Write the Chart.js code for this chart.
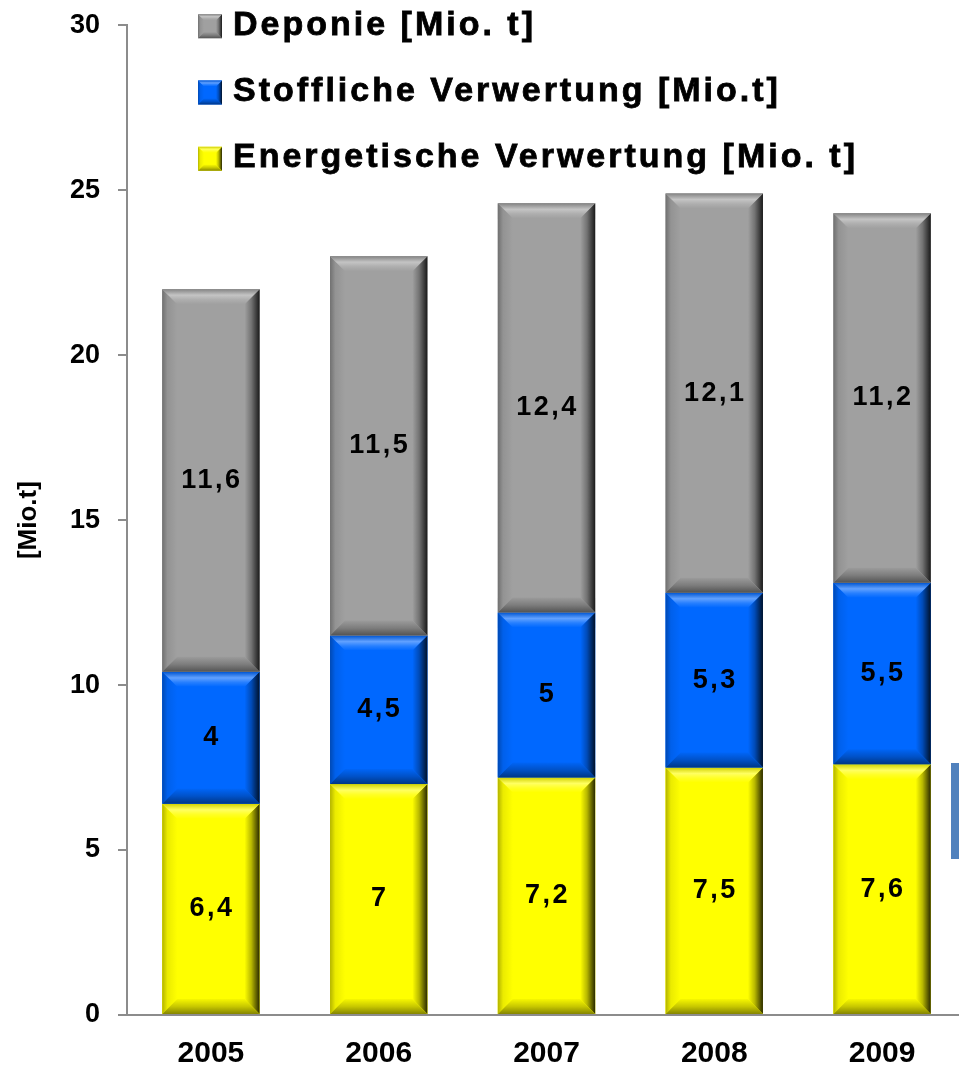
<!DOCTYPE html>
<html>
<head>
<meta charset="utf-8">
<script src="https://cdn.jsdelivr.net/npm/chart.js@4.4.1/dist/chart.umd.min.js"></script>
<style>
  html, body { margin: 0; padding: 0; background: #fff; overflow: hidden; width: 959px; height: 1074px; }
  #wrap { position: absolute; left: 0; top: -9px; width: 966px; height: 1083px; }
  #side { position: absolute; left: 951px; top: 763px; width: 10px; height: 96px; background: #5081bd; }
</style>
</head>
<body>
<div id="wrap"><canvas id="c" width="966" height="1083"></canvas></div>
<div id="side"></div>
<script>
// Abfallmengen je Jahr [Mio. t]
const years = ['2005', '2006', '2007', '2008', '2009'];
const energetisch = [6.4, 7, 7.2, 7.5, 7.6];
const stofflich = [4, 4.5, 5, 5.3, 5.5];
const deponie = [11.6, 11.5, 12.4, 12.1, 11.2];
const yTickStep = 5;
const yMax = 30;

const seriesNames = ['Energetische Verwertung [Mio. t]', 'Stoffliche Verwertung [Mio.t]', 'Deponie [Mio. t]'];
const faceColors = [[255, 255, 0], [0, 104, 255], [160, 160, 160]];

const FONT = '"Liberation Sans", Arial, sans-serif';

function shade(rgb, f) {
  let c;
  if (f <= 1) c = rgb.map(v => Math.round(v * f));
  else c = rgb.map(v => Math.round(v + (255 - v) * (f - 1)));
  return `rgb(${c[0]},${c[1]},${c[2]})`;
}

// beveled "3D" block look for a rectangle
function bevel(ctx, rgb, x0, y0, x1, y1, b) {
  const w = x1 - x0, h = y1 - y0;
  b = Math.min(b, w / 2, h / 2);
  ctx.save();
  ctx.fillStyle = shade(rgb, 1);
  ctx.fillRect(x0, y0, w, h);
  let g;
  // left
  g = ctx.createLinearGradient(x0, 0, x0 + b, 0);
  g.addColorStop(0, shade(rgb, 0.7));
  g.addColorStop(0.35, shade(rgb, 0.92));
  g.addColorStop(1, shade(rgb, 1));
  ctx.fillStyle = g;
  ctx.beginPath(); ctx.moveTo(x0, y0); ctx.lineTo(x0 + b, y0 + b); ctx.lineTo(x0 + b, y1 - b); ctx.lineTo(x0, y1); ctx.closePath(); ctx.fill();
  // right
  g = ctx.createLinearGradient(x1 - b, 0, x1, 0);
  g.addColorStop(0, shade(rgb, 1));
  g.addColorStop(0.45, shade(rgb, 0.72));
  g.addColorStop(1, shade(rgb, 0.16));
  ctx.fillStyle = g;
  ctx.beginPath(); ctx.moveTo(x1, y0); ctx.lineTo(x1, y1); ctx.lineTo(x1 - b, y1 - b); ctx.lineTo(x1 - b, y0 + b); ctx.closePath(); ctx.fill();
  // bottom
  g = ctx.createLinearGradient(0, y1 - b, 0, y1);
  g.addColorStop(0, shade(rgb, 0.97));
  g.addColorStop(0.5, shade(rgb, 0.78));
  g.addColorStop(1, shade(rgb, 0.52));
  ctx.fillStyle = g;
  ctx.beginPath(); ctx.moveTo(x0, y1); ctx.lineTo(x1, y1); ctx.lineTo(x1 - b, y1 - b); ctx.lineTo(x0 + b, y1 - b); ctx.closePath(); ctx.fill();
  // top
  g = ctx.createLinearGradient(0, y0, 0, y0 + b);
  g.addColorStop(0, shade(rgb, 0.82));
  g.addColorStop(0.4, shade(rgb, 1.38));
  g.addColorStop(0.7, shade(rgb, 1.15));
  g.addColorStop(1, shade(rgb, 1));
  ctx.fillStyle = g;
  ctx.beginPath(); ctx.moveTo(x0, y0); ctx.lineTo(x1, y0); ctx.lineTo(x1 - b, y0 + b); ctx.lineTo(x0 + b, y0 + b); ctx.closePath(); ctx.fill();
  ctx.restore();
}

const fmt = v => String(v).replace('.', ',');

const blockPlugin = {
  id: 'blocks',
  afterDatasetsDraw(chart) {
    const ctx = chart.ctx;
    chart.data.datasets.forEach((ds, di) => {
      const meta = chart.getDatasetMeta(di);
      meta.data.forEach(el => {
        const x0 = el.x - el.width / 2, x1 = el.x + el.width / 2;
        const top = Math.min(el.y, el.base), bot = Math.max(el.y, el.base);
        bevel(ctx, faceColors[di], x0, top, x1, bot, 15);
      });
    });
    // value labels
    ctx.save();
    ctx.fillStyle = '#000';
    ctx.font = 'bold 27px ' + FONT;
    ctx.textAlign = 'center';
    ctx.textBaseline = 'middle';
    ctx.letterSpacing = '2.5px';
    chart.data.datasets.forEach((ds, di) => {
      const meta = chart.getDatasetMeta(di);
      meta.data.forEach((el, i) => {
        ctx.fillText(fmt(ds.data[i]), el.x + 1, (el.y + el.base) / 2);
      });
    });
    ctx.restore();
  },
  afterDraw(chart) {
    const ctx = chart.ctx;
    const top = chart.chartArea.top;
    ctx.save();
    ctx.font = 'bold 34px ' + FONT;
    ctx.fillStyle = '#000';
    ctx.strokeStyle = '#000';
    ctx.lineWidth = 0.8;
    ctx.textBaseline = 'middle';
    ctx.textAlign = 'left';
    ctx.letterSpacing = '3px';
    const n = chart.data.datasets.length;
    for (let k = 0; k < n; k++) {
      const di = n - 1 - k;
      const cy = top + 1 + k * 66.3;
      bevel(ctx, faceColors[di], 198, cy - 12, 222, cy + 12, 6);
      ctx.fillText(chart.data.datasets[di].label, 233, cy - 1);
      ctx.strokeText(chart.data.datasets[di].label, 233, cy - 1);
    }
    ctx.restore();
  }
};

const seriesData = [energetisch, stofflich, deponie];

new Chart(document.getElementById('c'), {
  type: 'bar',
  data: {
    labels: years,
    datasets: seriesData.map((d, i) => ({
      label: seriesNames[i],
      data: d,
      backgroundColor: shade(faceColors[i], 1),
      borderWidth: 0,
      barPercentage: 0.58,
      categoryPercentage: 1
    }))
  },
  options: {
    responsive: false,
    animation: false,
    devicePixelRatio: 1,
    layout: { padding: { top: 15, left: 0, right: 0, bottom: 0 } },
    plugins: { legend: { display: false }, tooltip: { enabled: false } },
    scales: {
      x: {
        stacked: true,
        grid: { display: false, drawTicks: false, tickLength: 0 },
        border: { display: true, color: '#8c8c8c', width: 2 },
        ticks: { color: '#000', font: { family: FONT, size: 30, weight: 'bold' }, padding: 21 },
        afterFit(s) { s.height = 59; }
      },
      y: {
        stacked: true,
        min: 0,
        max: yMax,
        ticks: { stepSize: yTickStep, color: '#000', font: { family: FONT, size: 27, weight: 'bold' }, padding: 18 },
        grid: { drawOnChartArea: false, drawTicks: true, tickLength: 9, color: '#8c8c8c', lineWidth: 2 },
        border: { display: true, color: '#8c8c8c', width: 2 },
        title: { display: true, text: '[Mio.t]', color: '#000', font: { family: FONT, size: 26, weight: 'bold' }, padding: { top: 13, bottom: 0 } },
        afterFit(s) { s.width = 127; }
      }
    }
  },
  plugins: [blockPlugin]
});
</script>
</body>
</html>
